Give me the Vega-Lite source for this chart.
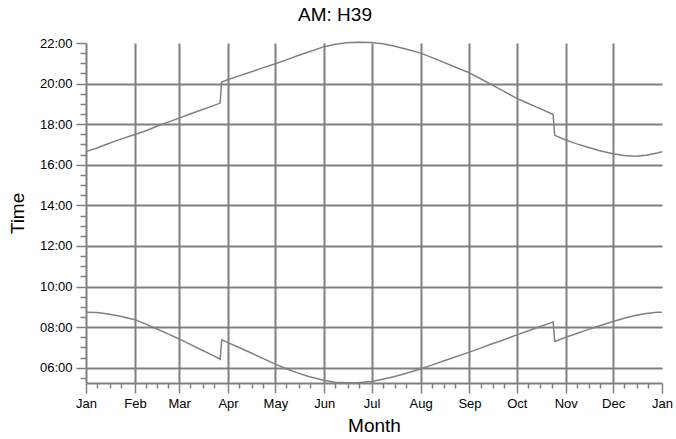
{
  "$schema": "https://vega.github.io/schema/vega-lite/v6.json",
  "width": 576,
  "height": 340,
  "autosize": {"type": "none"},
  "padding": {"left": 86, "top": 43, "right": 14, "bottom": 56},
  "background": "white",
  "config": {
    "view": {"stroke": null},
    "font": "Liberation Sans"
  },
  "title": {
    "text": "AM: H39",
    "font": "Liberation Sans",
    "fontSize": 19,
    "fontWeight": "normal",
    "color": "#000000",
    "anchor": "middle",
    "frame": "group",
    "offset": 12,
    "dx": -39
  },
  "data": {
    "values": [
      {"date": "2023-01-01", "event": "Sunset", "time": 16.65},
      {"date": "2023-01-08", "event": "Sunset", "time": 16.83},
      {"date": "2023-01-15", "event": "Sunset", "time": 17.04},
      {"date": "2023-01-22", "event": "Sunset", "time": 17.24},
      {"date": "2023-02-01", "event": "Sunset", "time": 17.49},
      {"date": "2023-02-08", "event": "Sunset", "time": 17.68},
      {"date": "2023-02-15", "event": "Sunset", "time": 17.90},
      {"date": "2023-02-22", "event": "Sunset", "time": 18.10},
      {"date": "2023-03-01", "event": "Sunset", "time": 18.30},
      {"date": "2023-03-08", "event": "Sunset", "time": 18.50},
      {"date": "2023-03-15", "event": "Sunset", "time": 18.70},
      {"date": "2023-03-22", "event": "Sunset", "time": 18.89},
      {"date": "2023-03-27", "event": "Sunset", "time": 19.04},
      {"date": "2023-03-28", "event": "Sunset", "time": 20.08},
      {"date": "2023-04-01", "event": "Sunset", "time": 20.20},
      {"date": "2023-04-08", "event": "Sunset", "time": 20.38},
      {"date": "2023-04-15", "event": "Sunset", "time": 20.56},
      {"date": "2023-04-22", "event": "Sunset", "time": 20.75},
      {"date": "2023-05-01", "event": "Sunset", "time": 20.98},
      {"date": "2023-05-08", "event": "Sunset", "time": 21.17},
      {"date": "2023-05-15", "event": "Sunset", "time": 21.37},
      {"date": "2023-05-22", "event": "Sunset", "time": 21.56},
      {"date": "2023-06-01", "event": "Sunset", "time": 21.82},
      {"date": "2023-06-08", "event": "Sunset", "time": 21.94},
      {"date": "2023-06-15", "event": "Sunset", "time": 22.01},
      {"date": "2023-06-22", "event": "Sunset", "time": 22.04},
      {"date": "2023-07-01", "event": "Sunset", "time": 22.03},
      {"date": "2023-07-08", "event": "Sunset", "time": 21.96},
      {"date": "2023-07-15", "event": "Sunset", "time": 21.85},
      {"date": "2023-07-22", "event": "Sunset", "time": 21.72},
      {"date": "2023-08-01", "event": "Sunset", "time": 21.50},
      {"date": "2023-08-08", "event": "Sunset", "time": 21.29},
      {"date": "2023-08-15", "event": "Sunset", "time": 21.07},
      {"date": "2023-08-22", "event": "Sunset", "time": 20.84},
      {"date": "2023-09-01", "event": "Sunset", "time": 20.53},
      {"date": "2023-09-08", "event": "Sunset", "time": 20.24},
      {"date": "2023-09-15", "event": "Sunset", "time": 19.95},
      {"date": "2023-09-22", "event": "Sunset", "time": 19.65},
      {"date": "2023-10-01", "event": "Sunset", "time": 19.27},
      {"date": "2023-10-08", "event": "Sunset", "time": 19.03},
      {"date": "2023-10-15", "event": "Sunset", "time": 18.79},
      {"date": "2023-10-22", "event": "Sunset", "time": 18.55},
      {"date": "2023-10-24", "event": "Sunset", "time": 18.48},
      {"date": "2023-10-25", "event": "Sunset", "time": 17.45},
      {"date": "2023-11-01", "event": "Sunset", "time": 17.22},
      {"date": "2023-11-08", "event": "Sunset", "time": 17.03},
      {"date": "2023-11-15", "event": "Sunset", "time": 16.86},
      {"date": "2023-11-22", "event": "Sunset", "time": 16.70},
      {"date": "2023-12-01", "event": "Sunset", "time": 16.54},
      {"date": "2023-12-08", "event": "Sunset", "time": 16.46},
      {"date": "2023-12-15", "event": "Sunset", "time": 16.42},
      {"date": "2023-12-22", "event": "Sunset", "time": 16.47},
      {"date": "2023-12-29", "event": "Sunset", "time": 16.58},
      {"date": "2024-01-01", "event": "Sunset", "time": 16.64},
      {"date": "2023-01-01", "event": "Sunrise", "time": 8.74},
      {"date": "2023-01-08", "event": "Sunrise", "time": 8.72},
      {"date": "2023-01-15", "event": "Sunrise", "time": 8.65},
      {"date": "2023-01-22", "event": "Sunrise", "time": 8.55},
      {"date": "2023-02-01", "event": "Sunrise", "time": 8.37},
      {"date": "2023-02-08", "event": "Sunrise", "time": 8.15},
      {"date": "2023-02-15", "event": "Sunrise", "time": 7.91},
      {"date": "2023-02-22", "event": "Sunrise", "time": 7.67},
      {"date": "2023-03-01", "event": "Sunrise", "time": 7.42},
      {"date": "2023-03-08", "event": "Sunrise", "time": 7.15},
      {"date": "2023-03-15", "event": "Sunrise", "time": 6.89},
      {"date": "2023-03-22", "event": "Sunrise", "time": 6.62},
      {"date": "2023-03-27", "event": "Sunrise", "time": 6.42},
      {"date": "2023-03-28", "event": "Sunrise", "time": 7.38},
      {"date": "2023-04-01", "event": "Sunrise", "time": 7.24},
      {"date": "2023-04-08", "event": "Sunrise", "time": 7.00},
      {"date": "2023-04-15", "event": "Sunrise", "time": 6.75},
      {"date": "2023-04-22", "event": "Sunrise", "time": 6.50},
      {"date": "2023-05-01", "event": "Sunrise", "time": 6.18},
      {"date": "2023-05-08", "event": "Sunrise", "time": 5.95},
      {"date": "2023-05-15", "event": "Sunrise", "time": 5.75},
      {"date": "2023-05-22", "event": "Sunrise", "time": 5.57},
      {"date": "2023-06-01", "event": "Sunrise", "time": 5.37},
      {"date": "2023-06-08", "event": "Sunrise", "time": 5.29},
      {"date": "2023-06-15", "event": "Sunrise", "time": 5.26},
      {"date": "2023-06-22", "event": "Sunrise", "time": 5.26},
      {"date": "2023-07-01", "event": "Sunrise", "time": 5.32},
      {"date": "2023-07-08", "event": "Sunrise", "time": 5.43},
      {"date": "2023-07-15", "event": "Sunrise", "time": 5.56},
      {"date": "2023-07-22", "event": "Sunrise", "time": 5.71},
      {"date": "2023-08-01", "event": "Sunrise", "time": 5.94},
      {"date": "2023-08-08", "event": "Sunrise", "time": 6.13},
      {"date": "2023-08-15", "event": "Sunrise", "time": 6.32},
      {"date": "2023-08-22", "event": "Sunrise", "time": 6.51},
      {"date": "2023-09-01", "event": "Sunrise", "time": 6.77},
      {"date": "2023-09-08", "event": "Sunrise", "time": 6.97},
      {"date": "2023-09-15", "event": "Sunrise", "time": 7.17},
      {"date": "2023-09-22", "event": "Sunrise", "time": 7.36},
      {"date": "2023-10-01", "event": "Sunrise", "time": 7.62},
      {"date": "2023-10-08", "event": "Sunrise", "time": 7.81},
      {"date": "2023-10-15", "event": "Sunrise", "time": 8.01},
      {"date": "2023-10-22", "event": "Sunrise", "time": 8.20},
      {"date": "2023-10-24", "event": "Sunrise", "time": 8.26},
      {"date": "2023-10-25", "event": "Sunrise", "time": 7.30},
      {"date": "2023-11-01", "event": "Sunrise", "time": 7.50},
      {"date": "2023-11-08", "event": "Sunrise", "time": 7.69},
      {"date": "2023-11-15", "event": "Sunrise", "time": 7.88},
      {"date": "2023-11-22", "event": "Sunrise", "time": 8.06},
      {"date": "2023-12-01", "event": "Sunrise", "time": 8.28},
      {"date": "2023-12-08", "event": "Sunrise", "time": 8.44},
      {"date": "2023-12-15", "event": "Sunrise", "time": 8.57},
      {"date": "2023-12-22", "event": "Sunrise", "time": 8.67},
      {"date": "2023-12-29", "event": "Sunrise", "time": 8.73},
      {"date": "2024-01-01", "event": "Sunrise", "time": 8.74}
    ]
  },
  "mark": {"type": "line", "color": "#808080", "strokeWidth": 1.5, "clip": false},
  "encoding": {
    "detail": {"field": "event", "type": "nominal"},
    "x": {
      "field": "date",
      "type": "temporal",
      "scale": {
        "type": "utc",
        "domain": [
          {"year": 2023, "month": 1, "date": 1, "utc": true},
          {"year": 2024, "month": 1, "date": 1, "utc": true}
        ],
        "nice": false
      },
      "axis": {
        "title": "Month",
        "titleFont": "Liberation Sans",
        "titleFontSize": 19,
        "titleFontWeight": "normal",
        "titleColor": "#000000",
        "titlePadding": 6,
        "labelFont": "Liberation Sans",
        "labelFontSize": 13,
        "labelColor": "#000000",
        "labelPadding": 4,
        "labelOverlap": false,
        "labelFlush": false,
        "labelBound": false,
        "labelExpr": "utcdate(datum.value) === 1 ? utcFormat(datum.value, '%b') : ''",
        "domainColor": "#808080",
        "domainWidth": 2,
        "tickColor": "#808080",
        "tickWidth": 1.5,
        "tickSize": {"condition": {"test": "utcdate(datum.value) === 1", "value": 10}, "value": 5},
        "grid": true,
        "gridColor": "#808080",
        "gridWidth": 2,
        "gridOpacity": {"condition": {"test": "utcdate(datum.value) === 1 && utcmonth(datum.value) !== 0", "value": 1}, "value": 0},
        "values": [
          {"year": 2023, "month": 1, "date": 1, "utc": true},
          {"year": 2023, "month": 1, "date": 8, "utc": true},
          {"year": 2023, "month": 1, "date": 16, "utc": true},
          {"year": 2023, "month": 1, "date": 23, "utc": true},
          {"year": 2023, "month": 2, "date": 1, "utc": true},
          {"year": 2023, "month": 2, "date": 8, "utc": true},
          {"year": 2023, "month": 2, "date": 15, "utc": true},
          {"year": 2023, "month": 2, "date": 22, "utc": true},
          {"year": 2023, "month": 3, "date": 1, "utc": true},
          {"year": 2023, "month": 3, "date": 8, "utc": true},
          {"year": 2023, "month": 3, "date": 16, "utc": true},
          {"year": 2023, "month": 3, "date": 23, "utc": true},
          {"year": 2023, "month": 4, "date": 1, "utc": true},
          {"year": 2023, "month": 4, "date": 8, "utc": true},
          {"year": 2023, "month": 4, "date": 16, "utc": true},
          {"year": 2023, "month": 4, "date": 23, "utc": true},
          {"year": 2023, "month": 5, "date": 1, "utc": true},
          {"year": 2023, "month": 5, "date": 8, "utc": true},
          {"year": 2023, "month": 5, "date": 16, "utc": true},
          {"year": 2023, "month": 5, "date": 23, "utc": true},
          {"year": 2023, "month": 6, "date": 1, "utc": true},
          {"year": 2023, "month": 6, "date": 8, "utc": true},
          {"year": 2023, "month": 6, "date": 16, "utc": true},
          {"year": 2023, "month": 6, "date": 23, "utc": true},
          {"year": 2023, "month": 7, "date": 1, "utc": true},
          {"year": 2023, "month": 7, "date": 8, "utc": true},
          {"year": 2023, "month": 7, "date": 16, "utc": true},
          {"year": 2023, "month": 7, "date": 23, "utc": true},
          {"year": 2023, "month": 8, "date": 1, "utc": true},
          {"year": 2023, "month": 8, "date": 8, "utc": true},
          {"year": 2023, "month": 8, "date": 16, "utc": true},
          {"year": 2023, "month": 8, "date": 23, "utc": true},
          {"year": 2023, "month": 9, "date": 1, "utc": true},
          {"year": 2023, "month": 9, "date": 8, "utc": true},
          {"year": 2023, "month": 9, "date": 16, "utc": true},
          {"year": 2023, "month": 9, "date": 23, "utc": true},
          {"year": 2023, "month": 10, "date": 1, "utc": true},
          {"year": 2023, "month": 10, "date": 8, "utc": true},
          {"year": 2023, "month": 10, "date": 16, "utc": true},
          {"year": 2023, "month": 10, "date": 23, "utc": true},
          {"year": 2023, "month": 11, "date": 1, "utc": true},
          {"year": 2023, "month": 11, "date": 8, "utc": true},
          {"year": 2023, "month": 11, "date": 16, "utc": true},
          {"year": 2023, "month": 11, "date": 23, "utc": true},
          {"year": 2023, "month": 12, "date": 1, "utc": true},
          {"year": 2023, "month": 12, "date": 8, "utc": true},
          {"year": 2023, "month": 12, "date": 16, "utc": true},
          {"year": 2023, "month": 12, "date": 23, "utc": true},
          {"year": 2024, "month": 1, "date": 1, "utc": true}
        ]
      }
    },
    "y": {
      "field": "time",
      "type": "quantitative",
      "scale": {"domain": [5.25, 22], "nice": false, "zero": false},
      "axis": {
        "title": "Time",
        "titleFont": "Liberation Sans",
        "titleFontSize": 19,
        "titleFontWeight": "normal",
        "titleColor": "#000000",
        "titlePadding": 12,
        "labelFont": "Liberation Sans",
        "labelFontSize": 13,
        "labelColor": "#000000",
        "labelPadding": 4,
        "labelOverlap": false,
        "labelBound": false,
        "labelFlush": false,
        "labelExpr": "datum.value % 2 === 0 ? (datum.value < 10 ? '0' : '') + datum.value + ':00' : ''",
        "domainColor": "#808080",
        "domainWidth": 2,
        "tickColor": "#808080",
        "tickWidth": 1.5,
        "tickSize": {"condition": {"test": "datum.value % 2 === 0", "value": 10}, "value": 6},
        "grid": true,
        "gridColor": "#808080",
        "gridWidth": 2,
        "gridOpacity": {"condition": {"test": "datum.value % 2 === 0 && datum.value < 22", "value": 1}, "value": 0},
        "values": [5.5, 6, 6.5, 7, 7.5, 8, 8.5, 9, 9.5, 10, 10.5, 11, 11.5, 12, 12.5, 13, 13.5, 14, 14.5, 15, 15.5, 16, 16.5, 17, 17.5, 18, 18.5, 19, 19.5, 20, 20.5, 21, 21.5, 22]
      }
    }
  }
}
